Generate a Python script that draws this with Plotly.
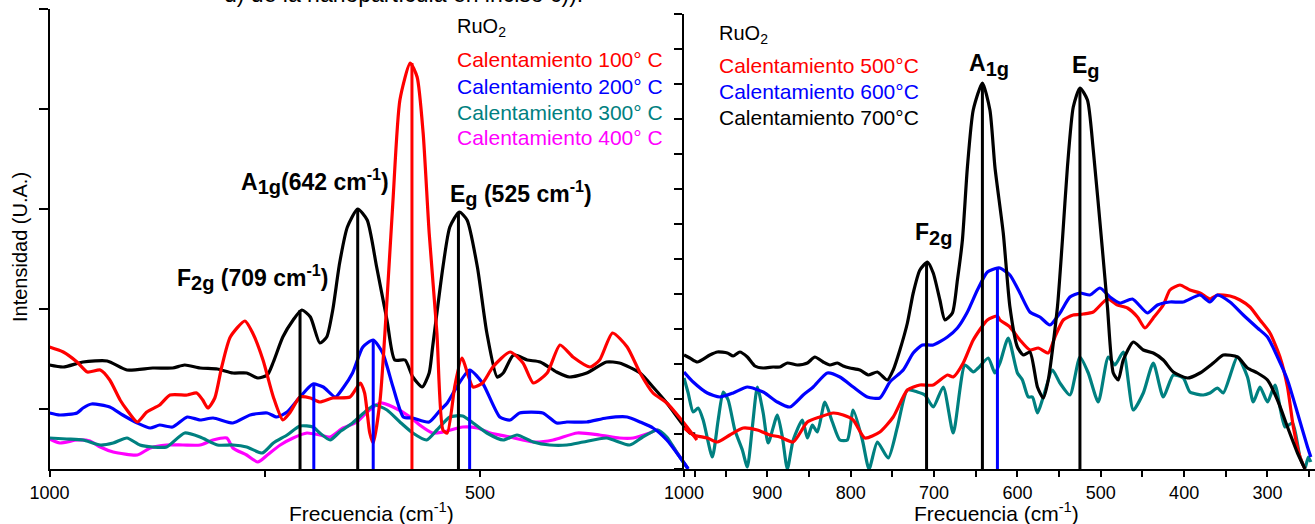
import plotly.graph_objects as go

# ---------------- Left panel (100-400 °C) ----------------
L_black_w = [1000, 984, 961, 933, 910, 880, 857, 843, 825, 805, 787, 771, 758, 747, 740, 729, 717, 707, 697, 686, 678, 671, 663, 654, 642, 631, 620, 608, 599, 587, 578, 567, 559, 555, 543, 535, 524, 515, 503, 492, 480, 473, 461, 445, 430, 411, 396, 376, 353, 338, 314, 299, 283, 264, 256, 250]
L_black_i = [10.4, 10.2, 10.7, 10.8, 9.9, 10.1, 10.1, 10.4, 10.1, 10.0, 9.6, 9.6, 9.1, 9.4, 10.7, 13.2, 14.9, 15.9, 15.2, 12.6, 13.2, 15.9, 20.6, 24.2, 26.0, 24.9, 20.2, 14.9, 10.9, 10.9, 9.2, 8.2, 9.6, 12.2, 20.2, 24.2, 25.7, 24.9, 20.2, 13.6, 9.2, 9.6, 11.4, 10.9, 10.7, 9.7, 9.2, 9.6, 10.7, 10.6, 9.6, 8.2, 6.6, 4.4, 3.6, 3.5]

L_red_w = [1000, 984, 968, 956, 941, 930, 918, 910, 898, 887, 872, 860, 840, 829, 822, 816, 808, 800, 790, 773, 764, 752, 740, 729, 721, 709, 697, 686, 671, 651, 639, 634, 628, 624, 616, 608, 601, 593, 581, 573, 566, 559, 550, 543, 538, 529, 521, 508, 497, 485, 465, 450, 438, 422, 407, 392, 372, 361, 346, 329, 314, 299, 283, 264, 248]
L_red_i = [12.2, 11.7, 10.7, 9.7, 9.9, 8.9, 6.9, 5.9, 4.7, 5.7, 6.4, 7.4, 7.4, 7.6, 6.9, 6.1, 7.1, 10.2, 13.2, 14.8, 13.6, 10.9, 7.2, 4.9, 5.6, 7.2, 7.1, 6.7, 7.1, 7.2, 8.6, 7.6, 3.6, 2.6, 6.9, 16.9, 26.9, 36.9, 40.6, 39.2, 33.6, 23.6, 13.6, 3.9, 3.6, 8.4, 11.1, 8.2, 8.6, 10.2, 11.7, 10.6, 8.6, 9.6, 12.4, 11.2, 10.2, 10.9, 13.6, 12.2, 9.6, 7.6, 6.6, 4.7, 2.9]

L_blue_w = [1000, 988, 968, 961, 951, 930, 915, 898, 883, 872, 857, 840, 825, 810, 787, 767, 747, 736, 724, 709, 694, 682, 668, 659, 648, 636, 624, 613, 601, 589, 578, 559, 546, 538, 527, 512, 497, 477, 465, 454, 427, 411, 399, 376, 353, 329, 314, 299, 283, 268, 258]
L_blue_i = [5.6, 5.4, 5.6, 6.1, 6.5, 6.2, 5.4, 4.6, 4.1, 4.4, 4.2, 5.2, 4.9, 5.1, 4.6, 5.4, 5.6, 5.2, 5.7, 7.2, 8.5, 8.2, 7.2, 8.1, 9.6, 12.2, 12.9, 11.6, 8.2, 5.2, 5.1, 4.7, 5.9, 6.6, 8.2, 9.9, 8.6, 5.2, 4.9, 5.6, 5.6, 4.6, 4.7, 4.7, 5.1, 5.2, 4.7, 4.1, 2.9, 1.2, 0.0]

L_teal_w = [1000, 980, 961, 941, 926, 910, 895, 880, 864, 843, 825, 805, 787, 771, 753, 740, 724, 709, 694, 686, 674, 663, 648, 631, 622, 608, 593, 578, 562, 550, 535, 520, 508, 492, 473, 457, 438, 419, 399, 380, 353, 326, 311, 294, 283, 271, 259]
L_teal_i = [3.1, 3.0, 2.9, 2.4, 2.6, 3.1, 2.4, 2.2, 2.2, 3.6, 3.2, 2.4, 2.4, 2.2, 1.6, 2.6, 3.4, 4.3, 4.2, 3.6, 2.9, 3.7, 4.6, 5.9, 6.4, 5.9, 4.7, 3.6, 2.9, 3.9, 5.2, 5.3, 4.6, 3.6, 2.9, 3.4, 2.7, 2.4, 2.4, 2.7, 3.1, 2.4, 3.2, 3.9, 3.2, 1.6, 0.1]

L_mag_w = [1000, 988, 968, 953, 941, 926, 898, 883, 864, 845, 825, 810, 794, 787, 771, 758, 747, 732, 717, 701, 686, 674, 659, 643, 631, 616, 601, 581, 570, 555, 543, 520, 503, 488, 465, 438, 415, 387, 361, 338, 322, 303, 294, 279, 259]
L_mag_i = [3.0, 2.6, 2.9, 2.8, 2.2, 1.7, 1.4, 2.1, 2.4, 2.4, 2.4, 2.9, 3.1, 2.1, 1.4, 0.7, 1.4, 2.4, 3.1, 3.6, 3.4, 3.2, 4.1, 4.7, 5.7, 6.6, 6.2, 5.2, 4.4, 3.6, 3.7, 4.2, 4.1, 3.6, 3.2, 2.7, 2.9, 3.6, 3.4, 3.1, 3.1, 3.6, 3.9, 2.6, 0.1]

L_lines_w = [709, 693, 642, 624, 579, 525, 512]
L_lines_top = [15.9, 8.5, 26.0, 12.9, 40.6, 25.7, 9.9]
L_lines_color = ["#000000", "#0000FF", "#000000", "#0000FF", "#FF0000", "#000000", "#0000FF"]

# ---------------- Right panel (500-700 °C) ----------------
R_black_w = [1000, 993, 984, 969, 960, 948, 941, 933, 924, 915, 905, 893, 885, 876, 864, 852, 843, 833, 825, 816, 809, 801, 789, 779, 768, 756, 749, 741, 732, 725, 717, 708, 701, 693, 687, 678, 672, 666, 660, 653, 642, 633, 627, 617, 609, 600, 593, 585, 576, 569, 563, 552, 546, 540, 533, 525, 516, 509, 498, 492, 485, 479, 473, 461, 449, 437, 425, 413, 396, 381, 365, 353, 336, 324, 312, 300, 288, 276, 264, 255]
R_black_i = [11.4, 11.1, 10.7, 11.4, 11.7, 11.6, 11.3, 11.7, 11.2, 10.3, 10.1, 10.2, 10.2, 10.6, 10.4, 10.6, 11.2, 10.7, 10.4, 10.6, 10.3, 10.1, 9.9, 9.4, 9.7, 8.9, 9.9, 11.9, 14.6, 17.6, 19.9, 20.7, 19.6, 16.9, 14.9, 15.6, 18.9, 22.9, 30.2, 35.9, 38.6, 35.9, 30.2, 23.6, 16.2, 12.2, 11.4, 11.7, 8.2, 7.1, 8.9, 16.2, 22.9, 30.2, 36.2, 38.1, 36.9, 31.9, 21.9, 16.2, 9.6, 8.9, 10.9, 12.7, 11.9, 11.6, 10.9, 9.7, 9.1, 9.6, 10.6, 11.4, 11.2, 10.1, 9.6, 8.9, 6.9, 4.2, 1.6, 0.0]

R_blue_w = [1000, 989, 972, 957, 941, 924, 905, 888, 873, 857, 845, 828, 813, 797, 780, 765, 753, 737, 725, 714, 701, 684, 672, 660, 648, 636, 624, 621, 609, 597, 585, 573, 561, 549, 537, 525, 513, 501, 489, 477, 462, 444, 432, 417, 401, 381, 369, 360, 345, 329, 312, 300, 288, 276, 264, 252, 248]
R_blue_i = [9.7, 8.7, 7.6, 7.2, 7.6, 8.2, 7.7, 6.7, 6.2, 7.4, 8.2, 9.6, 9.2, 8.2, 7.2, 7.1, 8.7, 9.9, 11.6, 12.4, 12.4, 13.2, 14.1, 15.7, 17.9, 19.7, 20.1, 20.1, 19.4, 17.6, 15.7, 15.2, 14.4, 15.6, 17.2, 17.6, 17.4, 18.1, 17.2, 16.6, 17.0, 15.6, 16.4, 16.7, 16.7, 17.4, 16.7, 17.4, 16.7, 15.4, 14.1, 13.2, 11.2, 8.9, 5.6, 2.2, 1.2]

R_red_w = [1000, 989, 972, 960, 945, 929, 912, 897, 885, 869, 852, 837, 821, 809, 797, 783, 765, 749, 732, 717, 701, 684, 677, 665, 653, 636, 624, 621, 609, 597, 585, 575, 563, 555, 545, 533, 521, 509, 492, 480, 468, 456, 447, 437, 425, 417, 405, 393, 381, 369, 360, 345, 333, 321, 309, 297, 285, 276, 269, 261, 255]
R_red_i = [4.1, 3.4, 3.1, 2.7, 3.4, 4.1, 3.9, 3.4, 3.2, 2.7, 4.7, 5.2, 5.6, 5.4, 4.9, 3.1, 3.7, 5.2, 7.9, 8.4, 8.4, 9.4, 9.2, 10.6, 12.9, 14.9, 15.3, 14.9, 14.2, 12.9, 11.9, 12.1, 11.6, 13.2, 14.9, 15.4, 15.5, 15.7, 17.0, 16.4, 16.1, 15.2, 14.1, 15.1, 16.4, 17.9, 18.4, 17.9, 17.6, 17.0, 17.4, 17.3, 16.9, 16.2, 14.9, 13.6, 11.2, 8.2, 4.2, 1.2, 0.0]

R_teal_w = [1000, 995, 989, 983, 977, 966, 959, 953, 947, 939, 930, 924, 918, 912, 905, 899, 888, 882, 876, 869, 858, 852, 846, 840, 831, 822, 813, 804, 797, 786, 778, 768, 755, 744, 732, 720, 711, 701, 689, 677, 663, 653, 647, 635, 627, 621, 611, 600, 594, 587, 582, 576, 569, 558, 549, 537, 525, 515, 503, 491, 483, 473, 461, 449, 437, 425, 413, 401, 393, 377, 369, 360, 353, 336, 324, 317, 309, 300, 291, 279, 270, 261, 255, 251, 248]
R_teal_i = [9.1, 7.6, 5.7, 6.1, 4.9, 1.2, 4.9, 7.7, 6.9, 3.9, 1.9, 0.2, 4.2, 8.2, 5.6, 2.6, 5.4, 3.2, 0.0, 2.9, 4.9, 3.1, 4.4, 3.7, 6.7, 4.7, 2.9, 2.9, 5.9, 2.9, 0.0, 2.7, 1.1, 4.2, 7.9, 7.7, 7.4, 6.2, 8.2, 3.6, 10.4, 9.7, 10.1, 11.1, 9.6, 10.6, 13.1, 9.6, 8.9, 7.2, 7.2, 5.6, 7.2, 9.9, 8.6, 7.4, 11.2, 9.6, 6.7, 11.2, 10.4, 11.7, 5.9, 7.6, 10.6, 7.2, 9.4, 9.1, 7.7, 7.4, 7.6, 8.1, 7.6, 11.2, 9.2, 6.7, 8.2, 6.7, 8.4, 4.2, 4.6, 1.2, 0.1, 1.2, 0.7]

R_lines_w = [709, 642, 624, 525]
R_lines_top = [20.7, 38.6, 20.1, 38.1]
R_lines_color = ["#000000", "#000000", "#0000FF", "#000000"]

L_x_ticks = [1000, 750, 500, 250]
L_x_text = ["1000", "", "500", ""]
R_x_ticks = [1000, 950, 900, 850, 800, 750, 700, 650, 600, 550, 500, 450, 400, 350, 300, 250]
R_x_text = ["1000", "", "900", "", "800", "", "700", "", "600", "", "500", "", "400", "", "300", ""]
L_y_ticks = [6, 16, 26, 36, 46]
R_y_ticks = [3.5 * k for k in range(14)]

left_legend = ["Calentamiento 100° C", "Calentamiento 200° C", "Calentamiento 300° C", "Calentamiento 400° C"]
right_legend = ["Calentamiento 500°C", "Calentamiento 600°C", "Calentamiento 700°C"]

RED, BLUE, TEAL, MAG, BLK = "#FF0000", "#0000FF", "#008080", "#FF00FF", "#000000"
FONT = "Arial, 'Liberation Sans', sans-serif"
W, H = 1315, 524

fig = go.Figure()

def add_curve(x, y, color, xa, ya):
    fig.add_trace(go.Scatter(x=x, y=y, mode="lines", line=dict(color=color, width=3.2, shape="spline", smoothing=0.6),
                             xaxis=xa, yaxis=ya, showlegend=False, hoverinfo="skip"))

def add_vline(w, top, color, xa, ya):
    fig.add_trace(go.Scatter(x=[w, w], y=[0, top], mode="lines", line=dict(color=color, width=3),
                             xaxis=xa, yaxis=ya, showlegend=False, hoverinfo="skip"))

# left panel
add_curve(L_mag_w, L_mag_i, MAG, "x", "y")
add_curve(L_teal_w, L_teal_i, TEAL, "x", "y")
add_curve(L_blue_w, L_blue_i, BLUE, "x", "y")
add_curve(L_black_w, L_black_i, BLK, "x", "y")
add_curve(L_red_w, L_red_i, RED, "x", "y")
for w, t, c in zip(L_lines_w, L_lines_top, L_lines_color):
    add_vline(w, t, c, "x", "y")

# right panel
add_curve(R_teal_w, R_teal_i, TEAL, "x2", "y2")
add_curve(R_red_w, R_red_i, RED, "x2", "y2")
add_curve(R_blue_w, R_blue_i, BLUE, "x2", "y2")
add_curve(R_black_w, R_black_i, BLK, "x2", "y2")
for w, t, c in zip(R_lines_w, R_lines_top, R_lines_color):
    add_vline(w, t, c, "x2", "y2")

axis_common = dict(showline=True, linecolor="black", linewidth=2, showgrid=False, zeroline=False,
                   ticks="outside", tickcolor="black", tickwidth=2, automargin=False,
                   tickfont=dict(family=FONT, size=18, color="black"))

fig.update_layout(
    width=W, height=H, margin=dict(l=0, r=0, t=0, b=0, pad=0, autoexpand=False),
    paper_bgcolor="white", plot_bgcolor="rgba(0,0,0,0)",
    xaxis=dict(domain=[49.5 / W, 699.5 / W], range=[1000, 245], tickmode="array",
               tickvals=L_x_ticks, ticktext=L_x_text, ticklen=6, anchor="y", **axis_common),
    yaxis=dict(domain=[(H - 469) / H, (H - 9) / H], range=[0, 46], tickmode="array",
               tickvals=L_y_ticks, showticklabels=False, ticklen=9, anchor="x", **axis_common),
    xaxis2=dict(domain=[684 / W, 1.0], range=[1000, 243], tickmode="array",
                tickvals=R_x_ticks, ticktext=R_x_text, ticklen=6, anchor="y2", **axis_common),
    yaxis2=dict(domain=[(H - 469) / H, (H - 14) / H], range=[0, 45.5], tickmode="array",
                tickvals=R_y_ticks, showticklabels=False, ticklen=8, anchor="x2", **axis_common),
)

ann = []
def txt(text, px, py, size, color="black", xanchor="left", yanchor="middle", angle=0):
    ann.append(dict(text=text, x=px / W, y=1 - py / H, xref="paper", yref="paper", showarrow=False,
                    xanchor=xanchor, yanchor=yanchor, textangle=angle,
                    font=dict(family=FONT, size=size, color=color)))

SUB = "<sub><span style='font-size:20px'>%s</span></sub>"

# clipped document text at top
txt("d) de la nanopartícula en inciso c)).", 222, 9, 23, yanchor="bottom")
# axis titles
txt("Intensidad (U.A.)", 20, 247, 20, xanchor="center", angle=-90)
txt("Frecuencia (cm<sup>-1</sup>)", 371, 512, 21, xanchor="center")
txt("Frecuencia (cm<sup>-1</sup>)", 996, 512, 21, xanchor="center")

# left legend
txt("RuO<sub>2</sub>", 455, 27, 20)
for k, (lab, col) in enumerate(zip(left_legend, [RED, BLUE, TEAL, MAG])):
    txt(lab, 455, 60 + 26 * k, 21, color=col)
# right legend
txt("RuO<sub>2</sub>", 717, 34, 20)
for k, (lab, col) in enumerate(zip(right_legend, [RED, BLUE, BLK])):
    txt(lab, 717, 66 + 25.5 * k, 21, color=col)

# peak labels
txt("<b>F" + SUB % "2g" + " (709 cm<sup>-1</sup>)</b>", 175, 277, 23)
txt("<b>A" + SUB % "1g" + "(642 cm<sup>-1</sup>)</b>", 239, 182, 23)
txt("<b>E" + SUB % "g" + " (525 cm<sup>-1</sup>)</b>", 448, 193, 23)
txt("<b>A" + SUB % "1g" + "</b>", 967, 65, 23)
txt("<b>E" + SUB % "g" + "</b>", 1070, 67, 23)
txt("<b>F" + SUB % "2g" + "</b>", 913, 234, 23)

fig.update_layout(annotations=ann)
fig.write_html("out.html")
